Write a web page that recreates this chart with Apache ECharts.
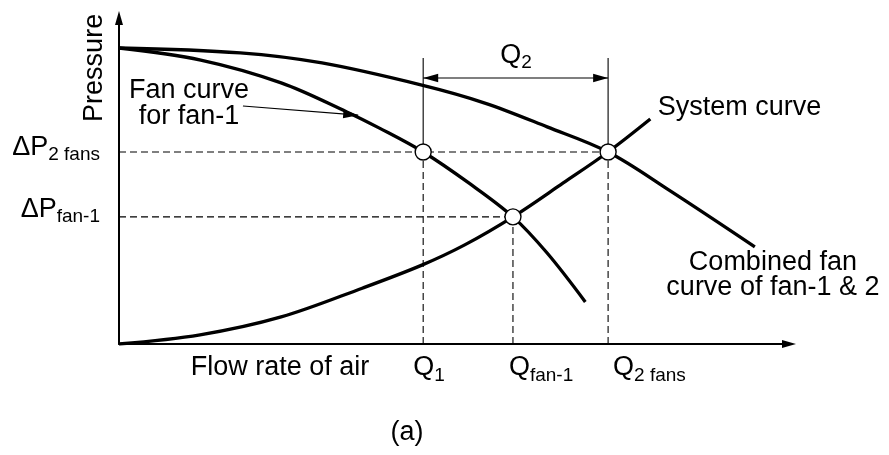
<!DOCTYPE html>
<html>
<head>
<meta charset="utf-8">
<script src="https://cdn.jsdelivr.net/npm/echarts@6/dist/echarts.min.js"></script>
<style>
  html, body { margin: 0; padding: 0; background: #fff; }
  #chart { width: 889px; height: 455px; }
</style>
</head>
<body>
<div id="chart"></div>
<script>
// Fan curve of a single fan (flow, pressure)
const fan1Flow     = [0, 12.2, 24.2, 34.0, 38.8, 45.4, 52.2, 58.8, 63.9, 69.6];
const fan1Pressure = [90.8, 87.1, 80.1, 71.2, 66.3, 58.9, 49.4, 39.0, 27.9, 12.9];

// Combined curve of fan-1 and fan-2
const combinedFlow     = [0, 18.1, 30.3, 45.2, 54.6, 63.9, 73.0, 82.1, 94.9];
const combinedPressure = [90.8, 89.3, 86.2, 79.4, 73.9, 66.6, 58.9, 47.2, 29.8];

// System resistance curve
const systemFlow     = [0, 12.1, 24.2, 36.4, 45.2, 51.6, 58.8, 66.3, 73.0, 79.3];
const systemPressure = [0, 2.8, 8.3, 17.2, 24.2, 30.4, 39.0, 49.4, 58.9, 69.0];

// Operating points
const flowQ1 = 45.4, flowFan1 = 58.8, flow2Fans = 73.0;
const pressure2Fans = 58.9, pressureFan1 = 39.0;

// Tick labels: [main, subscript]
const flowTickLabels     = [['Q', '1'], ['Q', 'fan-1'], ['Q', '2 fans']];
const pressureTickLabels = [['ΔP', '2 fans'], ['ΔP', 'fan-1']];
const dimensionLabel     = ['Q', '2'];

const FONT = '"Liberation Sans", Arial, sans-serif';
const dimY = 81.6, dimTop = 87.7;

const pairs = (xs, ys) => xs.map((x, i) => [x, ys[i]]);

const curve = (name, data) => ({
  name, type: 'line', data, smooth: 0.35, showSymbol: false, z: 5,
  lineStyle: { color: '#000', width: 3.3 }, silent: true
});

const guide = (data, dashed) => ({
  type: 'line', data, showSymbol: false, z: 2, silent: true,
  lineStyle: { color: '#000', width: 1.1, type: dashed ? [7, 4] : 'solid' }
});

// Straight arrow drawn from data coordinates; last value = number of heads
function renderArrow(params, api) {
  const a = api.coord([api.value(0), api.value(1)]);
  const b = api.coord([api.value(2), api.value(3)]);
  const heads = api.value(4);
  const dx = b[0] - a[0], dy = b[1] - a[1];
  const len = Math.sqrt(dx * dx + dy * dy);
  const ux = dx / len, uy = dy / len, nx = -uy, ny = ux;
  const L = 15, W = 4.2;
  const head = (tip, dir) => ({
    type: 'polygon',
    shape: { points: [
      tip,
      [tip[0] - dir * ux * L + nx * W, tip[1] - dir * uy * L + ny * W],
      [tip[0] - dir * ux * L - nx * W, tip[1] - dir * uy * L - ny * W]
    ] },
    style: { fill: '#000' }
  });
  const children = [{
    type: 'line',
    shape: { x1: a[0], y1: a[1], x2: b[0], y2: b[1] },
    style: { stroke: '#000', lineWidth: 1.1 }
  }, head(b, 1)];
  if (heads === 2) children.push(head(a, -1));
  return { type: 'group', children };
}

const chart = echarts.init(document.getElementById('chart'), null, { renderer: 'canvas' });

chart.setOption({
  animation: false,
  backgroundColor: '#fff',
  grid: { left: 119, right: 100, top: 18, bottom: 111, containLabel: false, outerBoundsMode: 'none' },
  xAxis: {
    type: 'value', min: 0, max: 100,
    axisLine: { show: true, onZero: false, symbol: ['none', 'triangle'], symbolSize: [8, 14],
      lineStyle: { color: '#000', width: 2 } },
    axisTick: { show: false }, axisLabel: { show: false }, splitLine: { show: false }
  },
  yAxis: {
    type: 'value', min: 0, max: 100,
    axisLine: { show: true, onZero: false, symbol: ['none', 'triangle'], symbolSize: [8, 14],
      lineStyle: { color: '#000', width: 2 } },
    axisTick: { show: false }, axisLabel: { show: false }, splitLine: { show: false }
  },
  series: [
    guide([[0, pressure2Fans], [flow2Fans, pressure2Fans]], true),
    guide([[0, pressureFan1], [flowFan1, pressureFan1]], true),
    guide([[flowQ1, 0], [flowQ1, pressure2Fans]], true),
    guide([[flowFan1, 0], [flowFan1, pressureFan1]], true),
    guide([[flow2Fans, 0], [flow2Fans, pressure2Fans]], true),
    guide([[flowQ1, pressure2Fans], [flowQ1, dimTop]], false),
    guide([[flow2Fans, pressure2Fans], [flow2Fans, dimTop]], false),
    curve('Fan curve for fan-1', pairs(fan1Flow, fan1Pressure)),
    curve('Combined fan curve', pairs(combinedFlow, combinedPressure)),
    curve('System curve', pairs(systemFlow, systemPressure)),
    {
      type: 'custom', renderItem: renderArrow, z: 6, silent: true,
      encode: { x: [0, 2], y: [1, 3] },
      data: [
        [flowQ1, dimY, flow2Fans, dimY, 2],
        [18.5, 73.0, 35.7, 70.2, 1]
      ]
    },
    {
      type: 'scatter', z: 10, silent: true,
      symbol: 'circle', symbolSize: 16,
      itemStyle: { color: '#fff', borderColor: '#000', borderWidth: 1.4, opacity: 1 },
      data: [[flowQ1, pressure2Fans], [flow2Fans, pressure2Fans], [flowFan1, pressureFan1]]
    }
  ]
});

// Text annotations anchored to data coordinates
const rich = {
  m: { font: '27px ' + FONT, lineHeight: 34, fill: '#000' },
  s: { font: '19px ' + FONT, lineHeight: 19, verticalAlign: 'bottom', fill: '#000' }
};
const sub = (pair) => '{m|' + pair[0] + '}{s|' + pair[1] + '}';

const notes = [
  { at: [0, 84.7], dx: -24, dy: 0, text: 'Pressure', align: 'center', va: 'middle', rotation: Math.PI / 2 },
  { at: [0, 0], dx: 161, dy: 24, text: 'Flow rate of air', align: 'center', va: 'middle' },
  { at: [flowQ1, 0], dx: -10, dy: 7, text: sub(flowTickLabels[0]), align: 'left', va: 'top', rich: true },
  { at: [flowFan1, 0], dx: -4, dy: 7, text: sub(flowTickLabels[1]), align: 'left', va: 'top', rich: true },
  { at: [flow2Fans, 0], dx: 5, dy: 7, text: sub(flowTickLabels[2]), align: 'left', va: 'top', rich: true },
  { at: [0, pressure2Fans], dx: -19, dy: -21.5, text: sub(pressureTickLabels[0]), align: 'right', va: 'top', rich: true },
  { at: [0, pressureFan1], dx: -19, dy: -24.2, text: sub(pressureTickLabels[1]), align: 'right', va: 'top', rich: true },
  { at: [(flowQ1 + flow2Fans) / 2, dimY], dx: -15.5, dy: -39.5, text: sub(dimensionLabel), align: 'left', va: 'top', rich: true },
  { at: [10.45, 81.7], dx: 0, dy: 0, text: 'Fan curve\nfor fan-1', align: 'center', va: 'top', lineHeight: 26 },
  { at: [80.4, 76.5], dx: 0, dy: 0, text: 'System curve', align: 'left', va: 'top', lineHeight: 26 },
  { at: [97.6, 28.8], dx: 0, dy: 0, text: 'Combined fan\ncurve of fan-1 & 2', align: 'center', va: 'top', lineHeight: 25 },
  { at: [43.0, -27.1], dx: 0, dy: 0, text: '(a)', align: 'center', va: 'middle' }
];

chart.setOption({
  graphic: notes.map(n => {
    const p = chart.convertToPixel({ gridIndex: 0 }, n.at);
    const style = {
      text: n.text, fill: '#000', font: '27px ' + FONT,
      align: n.align, verticalAlign: n.va
    };
    if (n.lineHeight) style.lineHeight = n.lineHeight;
    if (n.rich) style.rich = rich;
    return {
      type: 'text', x: p[0] + n.dx, y: p[1] + n.dy,
      rotation: n.rotation || 0, silent: true, z: 20, style
    };
  })
});
</script>
</body>
</html>
